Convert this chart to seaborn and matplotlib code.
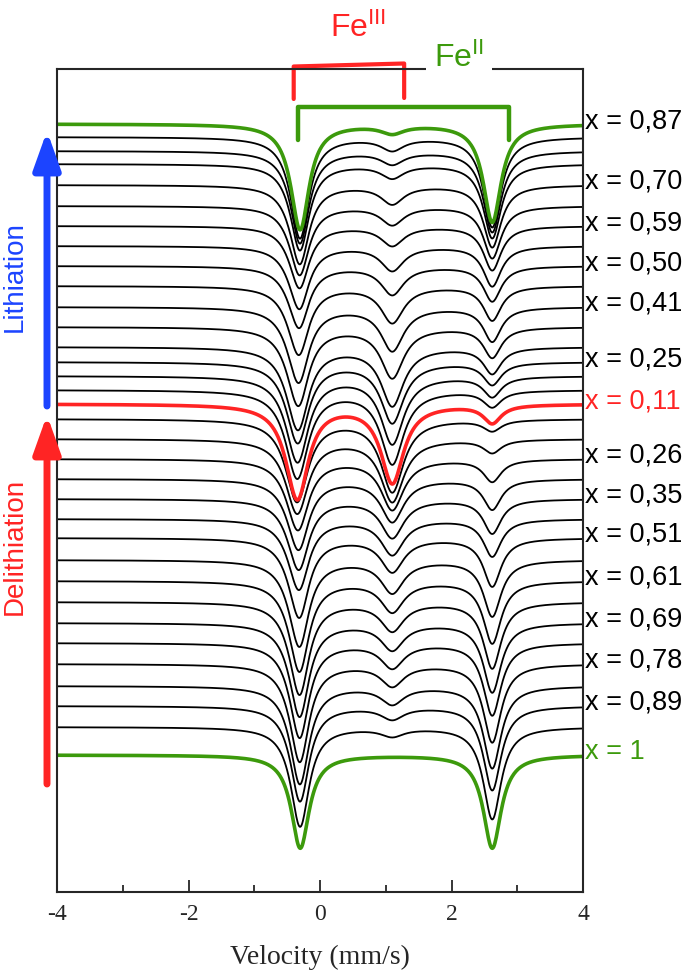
import numpy as np
import pandas as pd
import matplotlib
matplotlib.use("Agg")
import matplotlib.pyplot as plt
import seaborn as sns

# offsets of each spectrum (top -> bottom), vertical units of the stack
baselines = [124, 137, 151, 164, 185, 206, 226, 246, 266, 286, 307, 327, 347, 362, 376, 390,
             404,
             419, 439, 459, 479, 499, 519, 538, 560, 581, 602, 623, 643, 664, 686, 706, 727,
             755]
# line depths of the Fe(II) and Fe(III) quadrupole doublets
fe2_depth = [98, 90, 81, 74, 62, 52, 44, 40, 35, 34, 34, 30, 26, 22, 20, 16,
             18,
             11, 13, 22, 30, 34, 37, 48, 56, 62, 66, 69, 72, 78, 82, 84, 92,
             93]
fe3_depth = [8, 12, 12, 13, 18, 18, 19, 24, 28, 36, 43, 50, 58, 60, 67, 73,
             78,
             72, 62, 50, 42, 38, 35, 33, 32, 30, 28, 26, 24, 21, 17, 12, 8,
             0]
# doublet line positions and widths (mm/s)
fe2_lines = [-0.30, 2.62]
fe3_lines = [-0.36, 1.10]
fe2_fwhm = 0.33
fe3_fwhm = 0.42

# x labels attached to spectra
label_index = [0, 4, 6, 8, 10, 13, 16, 19, 21, 23, 25, 27, 29, 31, 33]
label_text = ['0,87', '0,70', '0,59', '0,50', '0,41', '0,25', '0,11', '0,26', '0,35',
              '0,51', '0,61', '0,69', '0,78', '0,89', '1']

RED = '#ff2424'
GREEN = '#3c9a0c'
BLUE = '#1c44ff'
colored = {0: GREEN, 16: RED, 33: GREEN}


def lorentz(v, c, fwhm):
    g = fwhm / 2
    return g**2 / ((v - c)**2 + g**2)


velocity = np.linspace(-4, 4, 801)
rows = []
for i, (b, d2, d3) in enumerate(zip(baselines, fe2_depth, fe3_depth)):
    sig = b + np.zeros_like(velocity)
    for c in fe2_lines:
        sig = sig + d2 * lorentz(velocity, c, fe2_fwhm)
    for c in fe3_lines:
        sig = sig + d3 * lorentz(velocity, c, fe3_fwhm)
    rows.append(pd.DataFrame({'velocity': velocity, 'signal': sig, 'spectrum': i}))
df = pd.concat(rows, ignore_index=True)

sns.set_style('ticks')
plt.rcParams['font.family'] = ['Liberation Sans', 'DejaVu Sans']
plt.rcParams['mathtext.default'] = 'regular'

W, H = 685, 974
fig = plt.figure(figsize=(W / 100, H / 100), dpi=100)
ax = fig.add_axes([57 / W, 1 - 892 / H, 526 / W, 823 / H])

black = df[~df['spectrum'].isin(colored.keys())]
sns.lineplot(data=black, x='velocity', y='signal', units='spectrum', estimator=None,
             sort=False, color='black', lw=1.3, ax=ax)
col = df[df['spectrum'].isin(colored.keys())]
sns.lineplot(data=col, x='velocity', y='signal', hue='spectrum', palette=colored,
             estimator=None, sort=False, lw=2.6, legend=False, ax=ax)

ax.set_xlim(-4, 4)
ax.set_ylim(892, 69)
ax.set_yticks([])
ax.set_xticks([-4, -2, 0, 2, 4])
ax.set_xticks([-3, -1, 1, 3], minor=True)
ax.set_xticklabels(['-4', '-2', '0', '2', '4'], family='Liberation Serif', fontsize=17)
ax.tick_params(axis='x', which='major', direction='in', length=9, width=1.3, pad=9)
ax.tick_params(axis='x', which='minor', direction='in', length=5, width=1.3)
ax.set_ylabel('')
ax.set_xlabel('Velocity (mm/s)', family='Liberation Serif', fontsize=20, labelpad=14)
for s in ax.spines.values():
    s.set_linewidth(1.5)

# x labels on the right
for i, t in zip(label_index, label_text):
    ax.text(1.004, baselines[i] - 3, f'x = {t}', transform=ax.get_yaxis_transform(),
            ha='left', va='center', fontsize=19.5,
            color=colored.get(i, 'black') if i else 'black', clip_on=False)

# doublet brackets
ax.plot([-0.40, -0.40, 1.28, 1.28], [99, 66.5, 63.5, 98], color=RED, lw=3,
        clip_on=False, solid_capstyle='round', solid_joinstyle='round')
ax.plot([-0.34, -0.34, 2.88, 2.88], [140, 107, 107, 140], color=GREEN, lw=3.2,
        clip_on=False, solid_capstyle='round', solid_joinstyle='round')

fig.text(330 / W, 1 - 37 / H, r'Fe$^{III}$', color=RED, fontsize=23, ha='left', va='baseline')
fig.text(434 / W, 1 - 67 / H, r'Fe$^{II}$', color=GREEN, fontsize=23, ha='left', va='baseline',
         bbox=dict(facecolor='white', edgecolor='none', pad=6))

# lithiation / delithiation arrows
head = '-|>,head_length=1.9,head_width=0.68'
ax.annotate('', xy=(47, H - 131), xytext=(47, H - 406), xycoords='figure pixels',
            arrowprops=dict(arrowstyle=head, color=BLUE, lw=5, shrinkA=0, shrinkB=0,
                            mutation_scale=12, capstyle='round'))
ax.annotate('', xy=(47, H - 415), xytext=(47, H - 784), xycoords='figure pixels',
            arrowprops=dict(arrowstyle=head, color=RED, lw=5, shrinkA=0, shrinkB=0,
                            mutation_scale=12, capstyle='round'))
fig.text(15 / W, 1 - 277 / H, 'Lithiation', color=BLUE, fontsize=20, rotation=90,
         ha='center', va='center')
fig.text(15 / W, 1 - 546 / H, 'Delithiation', color=RED, fontsize=20, rotation=90,
         ha='center', va='center')

fig.savefig('out.png', dpi=100)
